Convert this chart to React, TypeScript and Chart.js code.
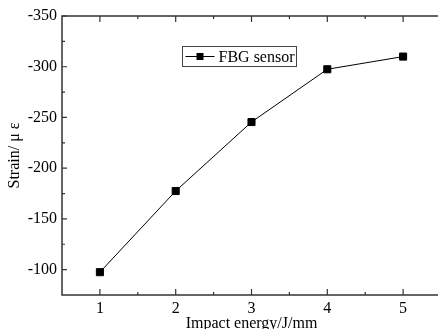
import React, { useEffect, useRef } from "react";
import { Chart, registerables } from "chart.js";

Chart.register(...registerables);

const energies = [1, 2, 3, 4, 5];
const strain = [-97.5, -177.5, -245.5, -297.5, -310];
const xMajorTicks = [1, 2, 3, 4, 5];
const xMinorTicks = [1.5, 2.5, 3.5, 4.5];
const yMajorTicks = [-350, -300, -250, -200, -150, -100];
const yMinorTicks = [-325, -275, -225, -175, -125];
const seriesName = "FBG sensor";
const xTitle = "Impact energy/J/mm";
const yTitle = "Strain/ μ ε";

const FONT = "'Liberation Serif', 'Times New Roman', serif";

const framePlugin = {
  id: "frame",
  afterDraw(chart: any) {
    const { ctx, chartArea } = chart;
    const { left, right, top, bottom } = chartArea;
    const xs = chart.scales.x;
    const ys = chart.scales.y;
    ctx.save();
    ctx.strokeStyle = "#333";
    ctx.lineWidth = 1.5;
    ctx.beginPath();
    ctx.moveTo(left, top);
    ctx.lineTo(right, top);
    ctx.lineTo(right, bottom);
    ctx.lineTo(left, bottom);
    ctx.closePath();
    ctx.stroke();
    ctx.lineWidth = 1.2;
    ctx.beginPath();
    const xt = (v: number, len: number) => {
      const p = xs.getPixelForValue(v);
      ctx.moveTo(p, bottom);
      ctx.lineTo(p, bottom - len);
      ctx.moveTo(p, top);
      ctx.lineTo(p, top + len);
    };
    const yt = (v: number, len: number) => {
      const p = ys.getPixelForValue(v);
      ctx.moveTo(left, p);
      ctx.lineTo(left + len, p);
    };
    xMajorTicks.forEach((v) => xt(v, 6));
    xMinorTicks.forEach((v) => xt(v, 3));
    yMajorTicks.forEach((v) => yt(v, 5));
    yMinorTicks.forEach((v) => yt(v, 3));
    ctx.stroke();

    // legend
    const bx = 182.5, by = 46.5, bw = 114, bh = 20;
    ctx.strokeStyle = "#444";
    ctx.lineWidth = 1;
    ctx.strokeRect(bx, by, bw, bh);
    const ly = by + bh / 2;
    ctx.strokeStyle = "#000";
    ctx.beginPath();
    ctx.moveTo(bx + 3, ly);
    ctx.lineTo(bx + 32, ly);
    ctx.stroke();
    ctx.fillStyle = "#000";
    ctx.fillRect(bx + 17.5 - 3.5, ly - 3.5, 7, 7);
    ctx.font = `16px ${FONT}`;
    ctx.textBaseline = "middle";
    ctx.textAlign = "left";
    ctx.fillText(seriesName, bx + 36, ly + 1);
    ctx.restore();
  },
};

export default function App() {
  const ref = useRef<HTMLCanvasElement>(null);
  useEffect(() => {
    document.body.style.margin = "0";
    document.body.style.overflow = "hidden";
    const chart = new Chart(ref.current!, {
      type: "line",
      data: {
        datasets: [
          {
            label: seriesName,
            data: energies.map((x, i) => ({ x, y: strain[i] })),
            borderColor: "#000",
            backgroundColor: "#000",
            borderWidth: 1,
            pointStyle: "rect",
            pointRadius: 5,
            pointHoverRadius: 5,
            tension: 0,
          },
        ],
      },
      options: {
        responsive: false,
        animation: false,
        events: [],
        layout: { padding: { top: 16, right: 19, left: 0, bottom: 0 } },
        plugins: { legend: { display: false }, tooltip: { enabled: false } },
        scales: {
          x: {
            type: "linear",
            min: 0.5,
            max: 5.5,
            afterBuildTicks: (s: any) => {
              s.ticks = xMajorTicks.map((v) => ({ value: v }));
            },
            afterFit: (s: any) => {
              s.height = 45;
            },
            grid: { display: false, drawTicks: false },
            border: { display: false },
            ticks: {
              autoSkip: false,
              maxRotation: 0,
              padding: 4,
              color: "#000",
              font: { family: FONT, size: 16 },
            },
            title: {
              display: true,
              text: xTitle,
              color: "#000",
              font: { family: FONT, size: 16 },
              padding: { top: 0, bottom: 7 },
            },
          },
          y: {
            type: "linear",
            min: -350,
            max: -75,
            reverse: true,
            afterBuildTicks: (s: any) => {
              s.ticks = yMajorTicks.map((v) => ({ value: v }));
            },
            afterFit: (s: any) => {
              s.width = 62;
            },
            grid: { display: false, drawTicks: false },
            border: { display: false },
            ticks: {
              autoSkip: false,
              padding: 5,
              color: "#000",
              font: { family: FONT, size: 16 },
            },
            title: {
              display: true,
              text: yTitle,
              color: "#000",
              font: { family: FONT, size: 16 },
              padding: { top: 5, bottom: 0 },
            },
          },
        },
      },
      plugins: [framePlugin],
    });
    return () => chart.destroy();
  }, []);
  return (
    <div style={{ width: 438, height: 329, overflow: "hidden", background: "#fff" }}>
      <canvas ref={ref} width={460} height={340} style={{ display: "block" }} />
    </div>
  );
}
